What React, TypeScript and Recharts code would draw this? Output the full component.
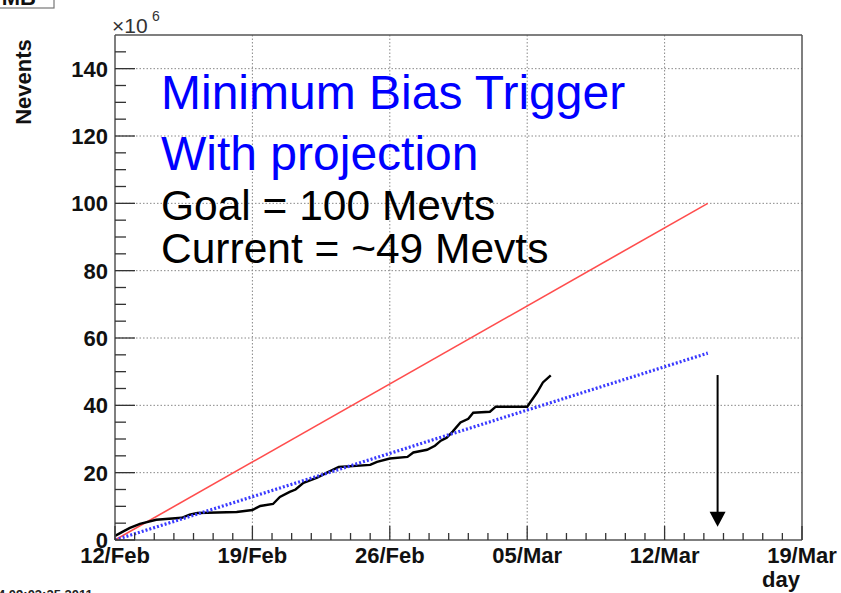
import { LineChart, Line, XAxis, YAxis, CartesianGrid, ReferenceLine } from "recharts";

// days counted from 12/Feb (2011), values in units of 10^6 events
const dayTicks = Array.from({ length: 36 }, (_, i) => i);
const dayLabels: Record<number, string> = {
  0: "12/Feb",
  7: "19/Feb",
  14: "26/Feb",
  21: "05/Mar",
  28: "12/Mar",
  35: "19/Mar",
};
const eventTicks = Array.from({ length: 31 }, (_, i) => i * 5);
const majorEvents = [0, 20, 40, 60, 80, 100, 120, 140];

const goalLine = [
  { day: 0, v: 0 },
  { day: 30.2, v: 100 },
];

const projection = [
  { day: 0, v: 0 },
  { day: 30.2, v: 55.5 },
];

const recorded = [
  { day: 0, v: 1.2 }, { day: 0.4, v: 2.5 }, { day: 0.76, v: 3.6 }, { day: 1.27, v: 4.8 },
  { day: 2.1, v: 6.0 }, { day: 3.4, v: 6.6 }, { day: 3.8, v: 7.5 }, { day: 4.2, v: 8.0 },
  { day: 6.2, v: 8.3 }, { day: 7.0, v: 8.9 }, { day: 7.4, v: 10.1 }, { day: 8.05, v: 10.7 },
  { day: 8.4, v: 12.8 }, { day: 8.9, v: 14.3 }, { day: 9.2, v: 15.0 }, { day: 9.6, v: 17.0 },
  { day: 10.3, v: 18.5 }, { day: 10.8, v: 20.0 }, { day: 11.4, v: 21.7 }, { day: 13.0, v: 22.3 },
  { day: 13.35, v: 23.2 }, { day: 14.0, v: 24.2 }, { day: 14.9, v: 24.7 }, { day: 15.2, v: 26.0 },
  { day: 15.9, v: 26.8 }, { day: 16.3, v: 28.0 }, { day: 16.6, v: 29.5 }, { day: 16.9, v: 30.4 },
  { day: 17.2, v: 32.2 }, { day: 17.6, v: 34.9 }, { day: 18.0, v: 36.0 }, { day: 18.25, v: 37.8 },
  { day: 19.1, v: 38.1 }, { day: 19.4, v: 39.6 }, { day: 21.0, v: 39.6 }, { day: 21.5, v: 43.8 },
  { day: 21.8, v: 46.8 }, { day: 22.2, v: 48.9 },
];

const arrowDay = 30.7;
const arrowFrom = 49;
const arrowTo = 3.9;

const FONT = "'Liberation Sans', Arial, Helvetica, sans-serif";

function XTick(props: any) {
  const { x, y, payload } = props;
  const label = dayLabels[payload.value];
  const major = label !== undefined;
  return (
    <g>
      <line x1={x} y1={y} x2={x} y2={y - (major ? 14 : 7)} stroke="#333" strokeWidth={1.3} />
      {major && (
        <text x={x} y={y + 23} textAnchor="middle" fontFamily={FONT} fontWeight="bold" fontSize={22} fill="#111">
          {label}
        </text>
      )}
    </g>
  );
}

function YTick(props: any) {
  const { x, y, payload } = props;
  if (payload.value >= 150) return <g />;
  const major = majorEvents.includes(payload.value);
  return (
    <g>
      <line x1={x} y1={y} x2={x + (major ? 20 : 11)} y2={y} stroke="#333" strokeWidth={1.3} />
      {major && (
        <text x={x - 7} y={y} dy="0.36em" textAnchor="end" fontFamily={FONT} fontWeight="bold" fontSize={22} fill="#111">
          {payload.value}
        </text>
      )}
    </g>
  );
}

function Arrow(props: any) {
  const { x1, y1, y2 } = props;
  return (
    <g>
      <line x1={x1} y1={y1} x2={x1} y2={y2 - 14} stroke="#000" strokeWidth={2} />
      <polygon points={`${x1 - 8},${y2 - 15} ${x1 + 8},${y2 - 15} ${x1},${y2}`} fill="#000" />
    </g>
  );
}

export default function App() {
  return (
    <div style={{ position: "fixed", left: 0, top: 0, width: 841, height: 593, background: "#fff" }}>
      <LineChart
        width={841}
        height={593}
        margin={{ top: 35, right: 39, bottom: 23, left: 55 }}
        style={{ position: "absolute", left: 0, top: 0 }}
      >
        <CartesianGrid
          stroke="#888"
          strokeDasharray="1.5 2"
          horizontalValues={[20, 40, 60, 80, 100, 120, 140]}
          verticalValues={[7, 14, 21, 28]}
        />
        <XAxis
          type="number"
          dataKey="day"
          domain={[0, 35]}
          ticks={dayTicks}
          interval={0}
          tickSize={0}
          tickMargin={0}
          tickLine={false}
          tick={<XTick />}
          height={30}
          stroke="#555"
          strokeWidth={1.5}
          allowDataOverflow
        />
        <YAxis
          type="number"
          domain={[0, 150]}
          ticks={eventTicks}
          interval={0}
          tickSize={0}
          tickMargin={0}
          tickLine={false}
          tick={<YTick />}
          width={60}
          stroke="#555"
          strokeWidth={1.5}
          allowDataOverflow
        />
        <ReferenceLine y={150} stroke="#555" strokeWidth={1.5} />
        <ReferenceLine x={35} stroke="#555" strokeWidth={1.5} />
        <Line data={goalLine} dataKey="v" stroke="#ff4d4d" strokeWidth={1.6} dot={false} isAnimationActive={false} />
        <Line data={recorded} dataKey="v" stroke="#000" strokeWidth={2.4} dot={false} isAnimationActive={false} />
        <Line
          data={projection}
          dataKey="v"
          stroke="#3a3aff"
          strokeWidth={3.2}
          strokeDasharray="2 2"
          dot={false}
          isAnimationActive={false}
        />
        <ReferenceLine
          segment={[
            { x: arrowDay, y: arrowFrom },
            { x: arrowDay, y: arrowTo },
          ]}
          stroke="#000"
          shape={<Arrow />}
        />
      </LineChart>
      <svg
        width={841}
        height={593}
        style={{ position: "absolute", left: 0, top: 0, pointerEvents: "none" }}
        fontFamily={FONT}
      >
        <rect x={-2} y={-20} width={56} height={28} fill="none" stroke="#777" strokeWidth={1.2} />
        <text x={36} y={5} textAnchor="end" fontWeight="bold" fontSize={22} fill="#111">MB</text>
        <text x={112} y={33} fontSize={21} fill="#333">×10</text>
        <text x={152} y={21} fontSize={14} fill="#333">6</text>
        <text
          transform="translate(31,82) rotate(-90)"
          textAnchor="middle"
          fontWeight="bold"
          fontSize={22}
          fill="#111"
        >
          Nevents
        </text>
        <text x={800} y={587} textAnchor="end" fontWeight="bold" fontSize={22} fill="#111">day</text>
        <text x={-2} y={599} fontWeight="bold" fontSize={13} fill="#222">4 09:03:25 2011</text>
        <text x={161} y={109} fontSize={48} fill="#0000ff">Minimum Bias Trigger</text>
        <text x={161} y={170} fontSize={48} fill="#0000ff">With projection</text>
        <text x={161} y={220} fontSize={42.5} fill="#000">Goal = 100 Mevts</text>
        <text x={161} y={263} fontSize={42.5} fill="#000">Current = ~49 Mevts</text>
      </svg>
    </div>
  );
}
